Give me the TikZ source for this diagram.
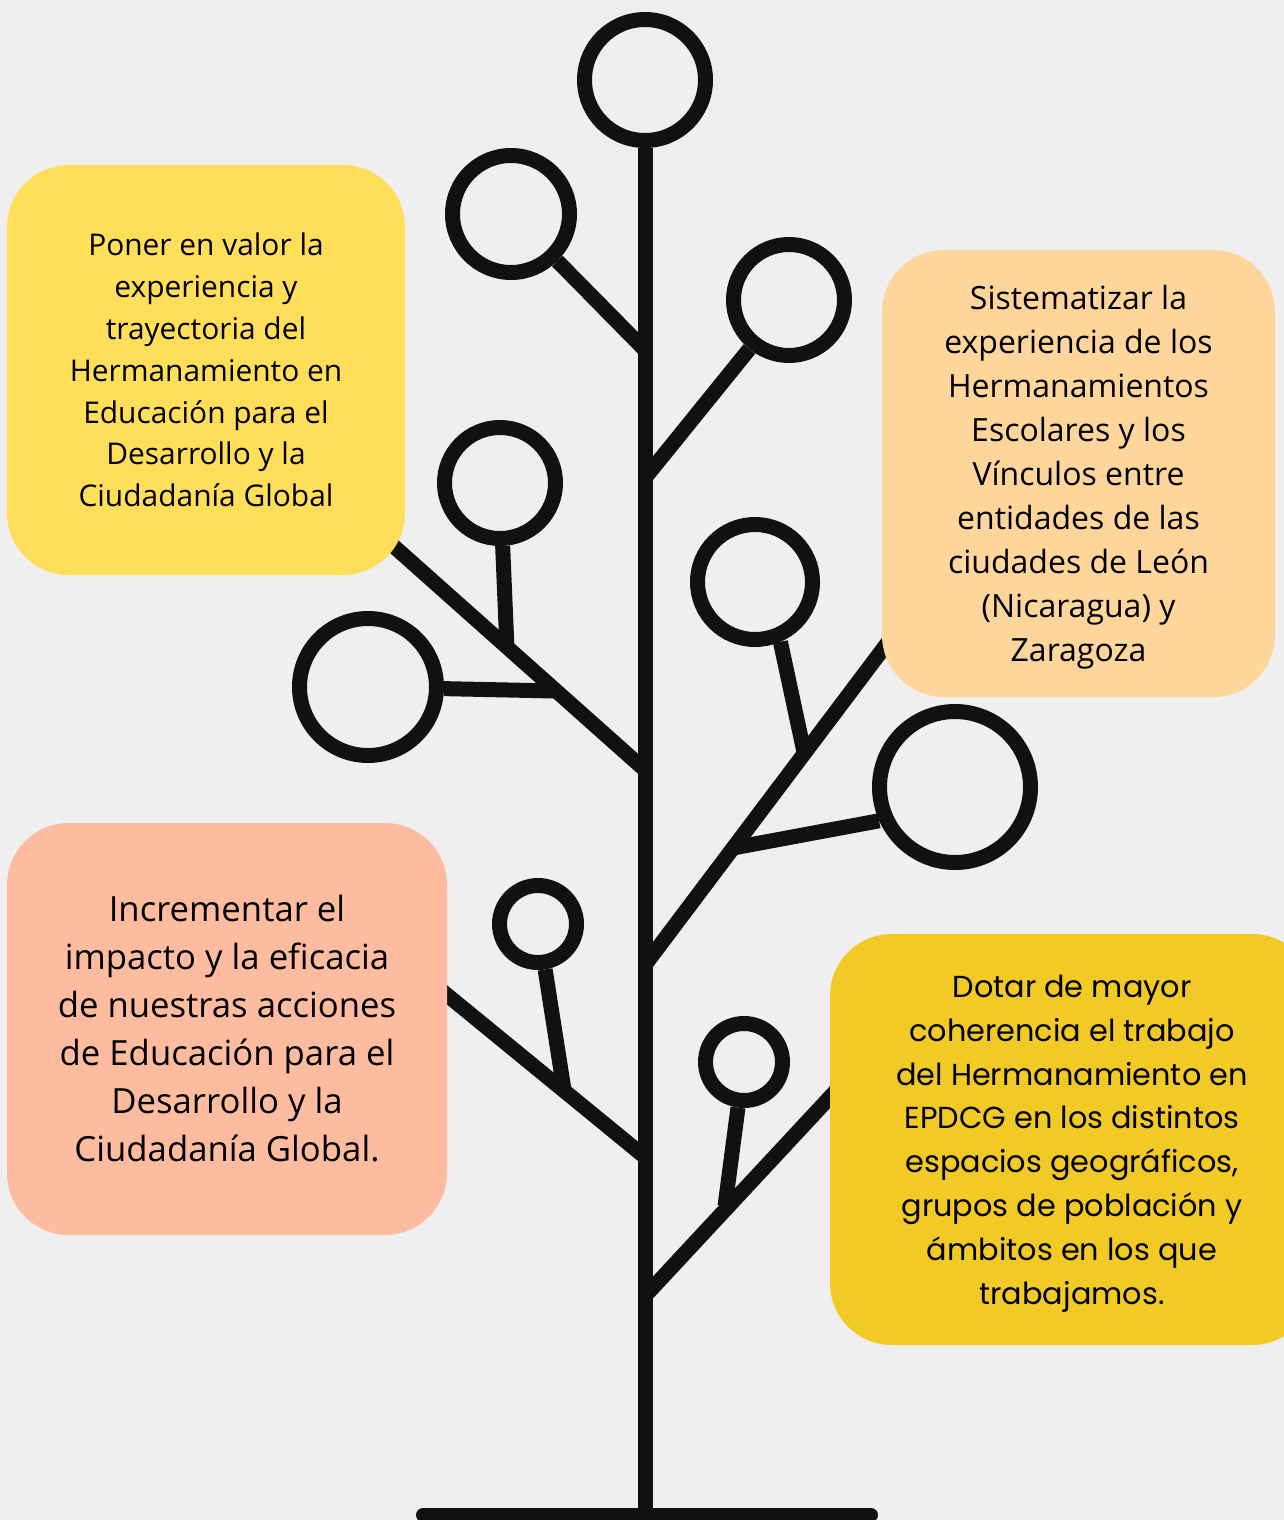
\documentclass[tikz,border=0pt]{standalone}
\usepackage{fontspec}
\setmainfont{Open Sans}
\newfontfamily\dotarfont{Poppins}
\usepackage{tikz}
\usetikzlibrary{calc}
\definecolor{fondo}{HTML}{EFEFEF}
\definecolor{tinta}{HTML}{121110}
\definecolor{amarillo}{HTML}{FFDE59}
\definecolor{melocoton}{HTML}{FED59A}
\definecolor{salmon}{HTML}{FDBCA0}
\definecolor{oro}{HTML}{F2CA26}
\begin{document}
\begin{tikzpicture}
	[   x=1pt,y=-1pt,
	    ring/.style={draw=tinta,line width=15,circle,inner sep=0,minimum size=#1},
	    goal/.style={fill=#1,rounded corners=62,inner sep=0,align=center,text=black},
	]
	\tikzset{rama/.style={draw=tinta,line width=15}}
	\fill[fondo] (0,0) rectangle (1284,1520);
	\useasboundingbox (0,0) rectangle (1284,1520);
	
	\foreach \n/\x/\y/\d in {1/645/80/121,2/511/214/117,3/789/300/111,4/500/483/111,5/368/687/137,6/755/582/115,7/955/787/151,8/538/924/77,9/744/1062/77}
	{
		\node[ring=\d] (c-\n) at (\x,\y) {};
	}
	
	\coordinate (suelo) at (645,1509);
	\coordinate (base-l) at (423,1515);
	\coordinate (base-r) at (871,1515);
	\coordinate (t-a) at (645,350);
	\coordinate (t-b) at (645,478);
	\coordinate (t-c) at (645,770);
	\coordinate (t-d) at (645,965);
	\coordinate (t-e) at (645,1157);
	\coordinate (t-f) at (645,1296);
	\coordinate (tip-c) at (380,534);
	\coordinate (tip-d) at (895,633);
	\coordinate (tip-e) at (430,981);
	\coordinate (tip-f) at (845,1081);
	\coordinate (j-4) at (507,649);
	\coordinate (j-5) at (555,691);
	\coordinate (j-6) at (804,752);
	\coordinate (j-7) at (733,848);
	\coordinate (j-8) at (564,1090);
	\coordinate (j-9) at (725,1206);
	
	\path[rama] (c-1) -- (suelo);
	\path[rama,line width=14,line cap=round] (base-l) -- (base-r);
	\path[rama] (t-a) -- (c-2);
	\path[rama] (t-b) -- (c-3);
	\path[rama] (t-c) -- (tip-c);
	\path[rama] (j-4) -- (c-4);
	\path[rama] (j-5) -- (c-5);
	\path[rama] (t-d) -- (tip-d);
	\path[rama] (j-6) -- (c-6.293);
	\path[rama] (j-7) -- (c-7.204);
	\path[rama] (t-e) -- (tip-e);
	\path[rama] (j-8) -- (c-8);
	\path[rama] (t-f) -- (tip-f);
	\path[rama] (j-9) -- (c-9);
	
	\node[goal=amarillo,minimum width=398,minimum height=410,font=\fontsize{29.9}{41.8}\selectfont] (valor) at (206,370)
		{Poner en valor la\\experiencia y\\trayectoria del\\Hermanamiento en\\Educación para el\\Desarrollo y la\\Ciudadanía Global};
	\node[goal=melocoton,minimum width=393,minimum height=447,
		label={[name=sistema-txt,align=center,yshift=-4pt,font=\fontsize{32}{44}\selectfont]center:{Sistematizar la\\experiencia de los\\Hermanamientos\\Escolares y los\\Vínculos entre\\entidades de las\\ciudades de León\\(Nicaragua) y\\Zaragoza}}] (sistema) at (1078.5,473.5) {};
	\node[goal=salmon,minimum width=440,minimum height=412,font=\fontsize{34.7}{48}\selectfont] (impacto) at (227,1029)
		{Incrementar el\\impacto y la eficacia\\de nuestras acciones\\de Educación para el\\Desarrollo y la\\Ciudadanía Global.};
	\node[goal=oro,minimum width=484,minimum height=411,
		label={[name=dotar-txt,align=center,yshift=-4pt,font=\dotarfont\fontsize{30.35}{43.8}\selectfont]center:{Dotar de mayor\\coherencia el trabajo\\del Hermanamiento en\\EPDCG en los distintos\\espacios geográficos,\\grupos de población y\\ámbitos en los que\\trabajamos.}}] (dotar) at (1072,1139.5) {};
\end{tikzpicture}
\end{document}
